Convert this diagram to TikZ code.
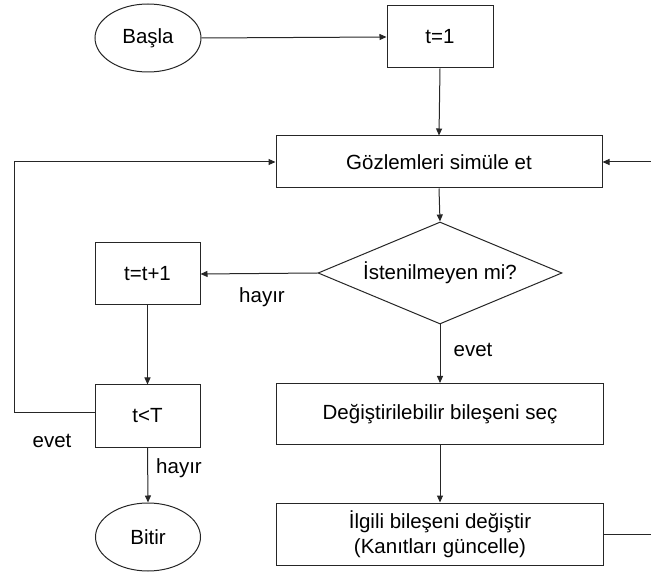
\documentclass[tikz,border=0pt]{standalone}
\usepackage{fontspec}
\setmainfont{Liberation Sans}
\usetikzlibrary{shapes.geometric,arrows.meta}
\begin{document}
\begin{tikzpicture}[x=1pt,y=-1pt,
  font=\fontsize{20.5}{25}\selectfont,
  line/.style={draw=black!85, line width=1pt},
  flow/.style={line, -{Triangle[length=7pt,width=6pt]}},
  box/.style={rectangle, line, fill=white, inner sep=0pt, align=center},
  term/.style={ellipse, line, fill=white, inner sep=0pt},
  choice/.style={diamond, shape aspect=2.4, line, fill=white, inner sep=0pt},
  lbl/.style={inner sep=0pt}]
  \useasboundingbox (0,0) rectangle (651,577);

  % process steps
  \node[term, minimum width=106, minimum height=68] (start) at (148,38) {Başla};
  \node[box, minimum width=106, minimum height=62] (t1) at (440,37) {t=1};
  \node[box, minimum width=326, minimum height=52] (sim) at (439,162) {Gözlemleri simüle et};
  \node[choice, minimum width=244, minimum height=102] (dec) at (440,273) {İstenilmeyen mi?};
  \node[box, minimum width=105, minimum height=62] (inc) at (147.5,274) {t=t+1};
  \node[box, minimum width=105, minimum height=62] (cmp) at (147.5,416) {t<T};
  \node[term, minimum width=105, minimum height=68] (end) at (148,537) {Bitir};
  \node[box, minimum width=327, minimum height=61] (sel) at (440,414) {Değiştirilebilir bileşeni seç};
  \node[box, minimum width=327, minimum height=62] (upd) at (440,534) {İlgili bileşeni değiştir\\(Kanıtları güncelle)};

  % loop ends
  \coordinate (lbend) at (14,413);
  \coordinate (rin) at (651,162);
  \coordinate (rout) at (651,534);

  % connectors
  \draw[flow] (start.east) -- (t1.west);
  \draw[flow] (t1.south) -- (sim.north);
  \draw[flow] (sim.south) -- (dec.north);
  \draw[flow] (dec.west) -- (inc.east);
  \draw[flow] (inc.south) -- (cmp.north);
  \draw[flow] (cmp.west |- lbend) -- (lbend) |- (sim.west);
  \draw[flow] (cmp.south) -- (end.north);
  \draw[flow] (dec.south) -- (sel.north);
  \draw[flow] (sel.south) -- (upd.north);
  \draw[line] (upd.east) -- (rout);
  \draw[flow] (rin) -- (sim.east);

  % branch labels
  \node[lbl] (l1) at (262,297) {hayır};
  \node[lbl] (l2) at (473,350) {evet};
  \node[lbl] (l3) at (52,441) {evet};
  \node[lbl] (l4) at (179,468) {hayır};
\end{tikzpicture}
\end{document}
